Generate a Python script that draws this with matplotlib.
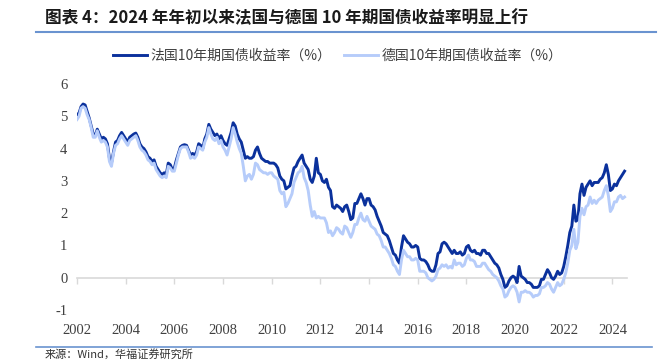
import matplotlib
matplotlib.use("Agg")
import matplotlib.pyplot as plt
import numpy as np

plt.rcParams['font.family'] = ['Noto Sans CJK SC', 'DejaVu Sans']

# Monthly values, Jan 2002 .. Jul 2024
france_yield = [
    5.05, 5.10, 5.30, 5.38, 5.35, 5.15, 4.95, 4.70, 4.45, 4.40, 4.60, 4.45,  # 2002
    4.30, 4.35, 4.30, 4.15, 3.70, 3.55, 3.90, 4.20, 4.25, 4.40, 4.50, 4.40,  # 2003
    4.30, 4.20, 4.35, 4.40, 4.45, 4.48, 4.35, 4.15, 4.05, 4.00, 3.90, 3.75,  # 2004
    3.70, 3.60, 3.65, 3.45, 3.35, 3.25, 3.20, 3.25, 3.20, 3.55, 3.50, 3.35,  # 2005
    3.40, 3.65, 3.85, 4.05, 4.10, 4.12, 4.10, 3.95, 3.80, 3.85, 3.80, 3.90,  # 2006
    4.15, 4.10, 4.00, 4.30, 4.45, 4.75, 4.60, 4.50, 4.40, 4.45, 4.30, 4.40,  # 2007
    4.25, 4.15, 4.10, 4.30, 4.50, 4.80, 4.70, 4.45, 4.30, 4.20, 3.95, 3.70,  # 2008
    3.75, 3.70, 3.70, 3.75, 3.95, 4.05, 3.85, 3.70, 3.65, 3.60, 3.60, 3.55,  # 2009
    3.55, 3.55, 3.50, 3.40, 3.15, 3.05, 3.00, 2.75, 2.80, 2.85, 3.15, 3.40,  # 2010
    3.45, 3.60, 3.70, 3.80, 3.55, 3.45, 3.35, 3.05, 2.95, 3.15, 3.70, 3.25,  # 2011
    3.20, 3.00, 2.95, 3.05, 2.80, 2.70, 2.20, 2.15, 2.25, 2.20, 2.15, 2.05,  # 2012
    2.20, 2.25, 2.05, 1.80, 1.85, 2.30, 2.30, 2.45, 2.60, 2.45, 2.25, 2.45,  # 2013
    2.45, 2.25, 2.20, 2.10, 1.90, 1.75, 1.60, 1.40, 1.35, 1.30, 1.15, 0.95,  # 2014
    0.75, 0.70, 0.55, 0.45, 0.95, 1.30, 1.20, 1.10, 1.05, 0.95, 0.95, 1.00,  # 2015
    0.95, 0.60, 0.55, 0.55, 0.50, 0.40, 0.25, 0.20, 0.20, 0.40, 0.75, 0.80,  # 2016
    1.05, 1.10, 1.05, 0.95, 0.85, 0.75, 0.85, 0.75, 0.75, 0.80, 0.70, 0.75,  # 2017
    0.95, 1.00, 0.85, 0.80, 0.85, 0.75, 0.75, 0.70, 0.85, 0.85, 0.75, 0.75,  # 2018
    0.65, 0.55, 0.45, 0.40, 0.30, 0.10, -0.05, -0.30, -0.25, -0.10, 0.00, 0.05,  # 2019
    0.00, -0.15, 0.35, 0.05, 0.00, -0.05, -0.15, -0.15, -0.20, -0.30, -0.30, -0.30,  # 2020
    -0.25, -0.05, -0.05, 0.10, 0.25, 0.15, 0.00, -0.05, 0.05, 0.20, 0.10, 0.15,  # 2021
    0.35, 0.65, 1.00, 1.40, 1.60, 2.25, 1.75, 1.80, 2.60, 2.90, 2.55, 2.80,  # 2022
    2.90, 3.00, 2.85, 2.95, 2.95, 2.95, 3.05, 3.10, 3.25, 3.50, 3.20, 2.70,  # 2023
    2.75, 2.90, 2.85, 3.00, 3.10, 3.20, 3.30,  # 2024
]

germany_yield = [
    4.90, 5.00, 5.25, 5.30, 5.25, 5.05, 4.90, 4.65, 4.35, 4.35, 4.55, 4.35,  # 2002
    4.20, 4.25, 4.20, 4.05, 3.60, 3.45, 3.85, 4.10, 4.15, 4.30, 4.40, 4.30,  # 2003
    4.20, 4.10, 4.25, 4.30, 4.35, 4.40, 4.25, 4.05, 3.95, 3.90, 3.80, 3.65,  # 2004
    3.60, 3.50, 3.55, 3.35, 3.25, 3.15, 3.10, 3.15, 3.10, 3.45, 3.40, 3.30,  # 2005
    3.30, 3.55, 3.80, 4.00, 4.05, 4.05, 4.05, 3.90, 3.70, 3.75, 3.70, 3.80,  # 2006
    4.05, 4.00, 3.95, 4.20, 4.35, 4.65, 4.45, 4.30, 4.25, 4.35, 4.15, 4.25,  # 2007
    4.05, 3.95, 3.80, 4.05, 4.30, 4.65, 4.45, 4.20, 4.00, 3.85, 3.45, 3.00,  # 2008
    3.15, 3.20, 3.05, 3.20, 3.55, 3.50, 3.35, 3.30, 3.25, 3.25, 3.20, 3.25,  # 2009
    3.25, 3.15, 3.10, 3.05, 2.70, 2.60, 2.65, 2.20, 2.30, 2.45, 2.60, 2.95,  # 2010
    3.10, 3.25, 3.30, 3.45, 3.10, 2.95, 2.70, 2.25, 1.90, 2.05, 1.85, 1.90,  # 2011
    1.85, 1.85, 1.85, 1.70, 1.40, 1.45, 1.30, 1.40, 1.55, 1.50, 1.40, 1.35,  # 2012
    1.60, 1.55, 1.40, 1.25, 1.40, 1.65, 1.65, 1.85, 2.00, 1.80, 1.75, 1.90,  # 2013
    1.75, 1.60, 1.55, 1.50, 1.35, 1.30, 1.15, 0.95, 0.95, 0.85, 0.75, 0.60,  # 2014
    0.40, 0.35, 0.20, 0.10, 0.55, 0.85, 0.75, 0.65, 0.65, 0.55, 0.55, 0.60,  # 2015
    0.55, 0.20, 0.20, 0.20, 0.15, 0.00, -0.05, -0.10, -0.05, 0.05, 0.25, 0.30,  # 2016
    0.40, 0.35, 0.40, 0.30, 0.35, 0.30, 0.55, 0.40, 0.45, 0.45, 0.35, 0.40,  # 2017
    0.60, 0.70, 0.55, 0.55, 0.50, 0.35, 0.35, 0.35, 0.45, 0.45, 0.35, 0.25,  # 2018
    0.20, 0.10, 0.05, 0.00, -0.10, -0.25, -0.35, -0.60, -0.55, -0.40, -0.30, -0.25,  # 2019
    -0.30, -0.45, -0.75, -0.45, -0.45, -0.40, -0.45, -0.45, -0.50, -0.60, -0.55, -0.55,  # 2020
    -0.50, -0.30, -0.30, -0.25, -0.15, -0.20, -0.35, -0.45, -0.30, -0.15, -0.25, -0.20,  # 2021
    -0.05, 0.15, 0.45, 0.85, 1.00, 1.50, 0.90, 1.10, 1.90, 2.15, 1.95, 2.20,  # 2022
    2.25, 2.50, 2.30, 2.40, 2.30, 2.40, 2.45, 2.50, 2.70, 2.85, 2.55, 2.05,  # 2023
    2.15, 2.35, 2.35, 2.50, 2.55, 2.45, 2.50,  # 2024
]

start_year = 2002
year_ticks = [2002, 2004, 2006, 2008, 2010, 2012, 2014, 2016, 2018, 2020, 2022, 2024]
y_ticks = [-1, 0, 1, 2, 3, 4, 5, 6]
series_labels = ['法国10年期国债收益率（%）', '德国10年期国债收益率（%）']
title_text = '图表 4：2024 年年初以来法国与德国 10 年期国债收益率明显上行'
source_text = '来源：Wind，华福证券研究所'

t = start_year + np.arange(len(france_yield)) / 12.0

W, H = 664, 360
fig = plt.figure(figsize=(W / 100, H / 100), dpi=100)
ax = fig.add_axes([77 / W, 1 - 310 / H, (627 - 77) / W, (310 - 84) / H])

dark = '#0B319C'
light = '#B6CCFA'
l1, = ax.plot(t, france_yield, color=dark, lw=2.1, label=series_labels[0], zorder=3)
l2, = ax.plot(t, germany_yield, color=light, lw=2.1, label=series_labels[1], zorder=4)

ax.set_xlim(2002, 2024.6)
ax.set_ylim(-1, 6)
for s in ['top', 'right', 'left']:
    ax.spines[s].set_visible(False)
ax.spines['bottom'].set_position(('data', 0))
ax.spines['bottom'].set_color('#D9D9D9')
ax.spines['bottom'].set_linewidth(1.2)
ax.spines['bottom'].set_zorder(1)

ax.set_xticks(year_ticks)
ax.set_xticklabels([str(y) for y in year_ticks])
ax.set_yticks(y_ticks)
ax.set_yticklabels([str(v) for v in y_ticks])
ax.tick_params(axis='x', direction='out', length=4, width=1, color='#D9D9D9',
               pad=29, labelsize=10.5, labelcolor='#404040')
ax.tick_params(axis='y', length=0, pad=7, labelsize=10.5, labelcolor='#404040')
for lab in ax.get_xticklabels() + ax.get_yticklabels():
    lab.set_family(['Liberation Serif', 'DejaVu Serif'])

fig.legend(handles=[l1, l2], loc='center', bbox_to_anchor=(338 / W, 1 - 56 / H),
           ncol=2, frameon=False, fontsize=10, handlelength=2.4,
           handletextpad=0.3, columnspacing=0.9, labelcolor='#404040')

fig.text(45 / W, 1 - 18 / H, title_text, fontsize=12, fontweight='bold',
         ha='left', va='center', color='#1a1a1a')
fig.add_artist(plt.Line2D([36 / W, 656 / W], [1 - 32 / H, 1 - 32 / H],
                          transform=fig.transFigure, color='#6A93D0', lw=1.5))
fig.add_artist(plt.Line2D([36 / W, 652 / W], [1 - 347 / H, 1 - 347 / H],
                          transform=fig.transFigure, color='#6A93D0', lw=1.2))
fig.text(45 / W, 1 - 354.5 / H, source_text, fontsize=8, ha='left', va='center',
         color='#333333')

fig.savefig('out.png', dpi=100)
